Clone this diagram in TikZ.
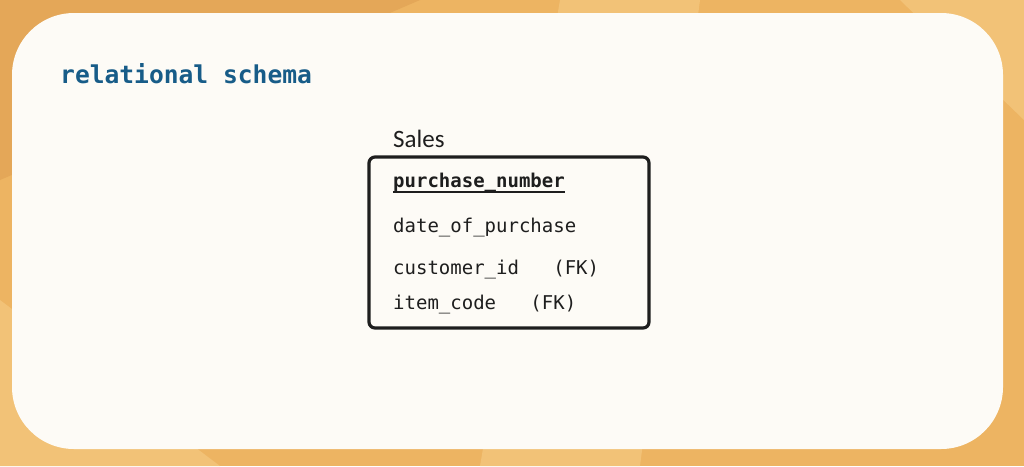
\documentclass[tikz,border=0pt]{standalone}
\usepackage{fontspec}
\newfontfamily\monofont{DejaVu Sans Mono}
\newfontfamily\sansfont{Carlito}
\definecolor{bgorange}{HTML}{EDB462}
\definecolor{bgstripe}{HTML}{F2C277}
\definecolor{bgdark}{HTML}{E4A758}
\definecolor{card}{HTML}{FDFBF6}
\definecolor{titleblue}{HTML}{175C88}
\definecolor{ink}{HTML}{1E1E1E}
\begin{document}
\begin{tikzpicture}[x=1pt,y=-1pt,
  field/.style={anchor=west,inner sep=0pt,font=\monofont\fontsize{19}{22}\selectfont,text=ink},
  tablebox/.style={draw=ink,line width=3.2pt,rounded corners=6pt}]
\useasboundingbox (0,0) rectangle (1024,466);
% background
\fill[bgorange] (0,0) rectangle (1024,466);
\fill[bgdark] (0,0) -- (420,0) -- (0,180) -- cycle;
\fill[bgstripe] (560,0) -- (700,0) -- (640,466) -- (480,466) -- cycle;
\fill[bgstripe] (900,0) -- (1024,0) -- (1024,120) -- cycle;
\fill[bgstripe] (0,300) -- (0,466) -- (220,466) -- cycle;
% card
\fill[card,rounded corners=62pt] (12,13) rectangle (1003,449);
% title
\node[anchor=west,inner sep=0pt,font=\monofont\bfseries\fontsize{24.6}{28}\selectfont,text=titleblue] (title) at (60,74) {relational schema};
% table
\node[anchor=west,inner sep=0pt,font=\sansfont\fontsize{25}{28}\selectfont,text=ink] (tname) at (393,139) {Sales};
\draw[tablebox] (369,157) rectangle (649,328);
\node[field,font=\monofont\bfseries\fontsize{19}{22}\selectfont] (pk) at (393,183) {purchase\_number};
\draw[ink,line width=1.6pt] ([yshift=-4pt]pk.base west) -- ([yshift=-4pt]pk.base east);
\node[field] (f1) at (393,228) {date\_of\_purchase};
\node[field] (f2) at (393,270) {customer\_id\ \ \ (FK)};
\node[field] (f3) at (393,305) {item\_code\ \ \ (FK)};
\end{tikzpicture}
\end{document}
